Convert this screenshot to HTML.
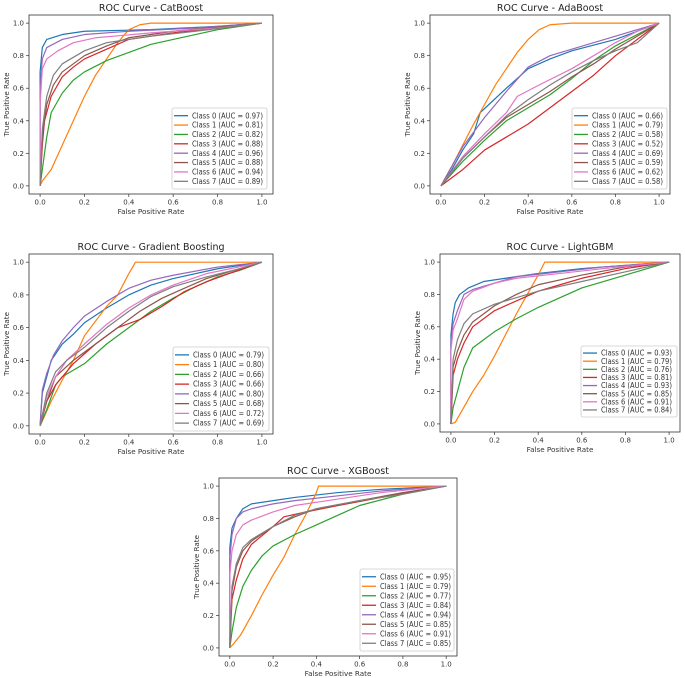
<!DOCTYPE html>
<html><head><meta charset="utf-8"><style>
html,body{margin:0;padding:0;background:#fff;}
svg{display:block;font-family:"DejaVu Sans","Liberation Sans",sans-serif;}
</style></head><body>
<svg id="fig" width="685" height="678" viewBox="0 0 685 678" xmlns="http://www.w3.org/2000/svg"></svg>
<script>
const classColors = ['#1f77b4','#ff7f0e','#2ca02c','#d62728','#9467bd','#8c564b','#e377c2','#7f7f7f'];
const tickValues = [0,0.2,0.4,0.6,0.8,1.0];
const tickLabels = ['0.0','0.2','0.4','0.6','0.8','1.0'];

const catboostAuc = [0.97,0.81,0.82,0.88,0.96,0.88,0.94,0.89];
const catboostCurves = [
 [[0,0],[0,0.7],[0.01,0.85],[0.03,0.9],[0.1,0.93],[0.2,0.95],[0.5,0.96],[0.8,0.98],[1,1]],
 [[0,0],[0.01,0.03],[0.05,0.1],[0.1,0.25],[0.15,0.4],[0.2,0.55],[0.25,0.68],[0.3,0.78],[0.35,0.88],[0.4,0.96],[0.45,0.99],[0.5,1],[1,1]],
 [[0,0],[0.01,0.1],[0.03,0.3],[0.05,0.45],[0.1,0.57],[0.15,0.65],[0.2,0.7],[0.3,0.77],[0.4,0.82],[0.5,0.87],[0.6,0.9],[0.8,0.96],[1,1]],
 [[0,0],[0.01,0.25],[0.02,0.4],[0.05,0.55],[0.1,0.67],[0.15,0.73],[0.2,0.78],[0.3,0.84],[0.4,0.9],[0.6,0.94],[0.8,0.97],[1,1]],
 [[0,0],[0,0.6],[0.01,0.78],[0.03,0.85],[0.1,0.9],[0.2,0.93],[0.4,0.95],[0.7,0.97],[1,1]],
 [[0,0],[0.01,0.3],[0.03,0.5],[0.06,0.62],[0.1,0.7],[0.2,0.8],[0.3,0.86],[0.4,0.91],[0.6,0.95],[1,1]],
 [[0,0],[0,0.5],[0.01,0.72],[0.03,0.78],[0.08,0.83],[0.15,0.88],[0.25,0.91],[0.5,0.94],[0.8,0.97],[1,1]],
 [[0,0],[0.01,0.35],[0.03,0.55],[0.06,0.68],[0.1,0.75],[0.2,0.83],[0.3,0.88],[0.5,0.92],[0.7,0.95],[1,1]]
];
const adaboostAuc = [0.66,0.79,0.58,0.52,0.69,0.59,0.62,0.58];
const adaboostCurves = [
 [[0,0],[0.05,0.1],[0.1,0.22],[0.15,0.32],[0.18,0.45],[0.22,0.5],[0.3,0.6],[0.4,0.72],[0.5,0.78],[0.6,0.83],[0.8,0.9],[1,1]],
 [[0,0],[0.05,0.12],[0.1,0.25],[0.15,0.38],[0.2,0.5],[0.25,0.62],[0.3,0.72],[0.35,0.82],[0.4,0.9],[0.45,0.96],[0.5,0.99],[0.6,1],[1,1]],
 [[0,0],[0.1,0.15],[0.2,0.28],[0.3,0.4],[0.4,0.48],[0.5,0.56],[0.6,0.66],[0.7,0.77],[0.8,0.86],[0.9,0.93],[1,1]],
 [[0,0],[0.05,0.05],[0.1,0.1],[0.2,0.22],[0.3,0.3],[0.4,0.38],[0.5,0.48],[0.6,0.58],[0.7,0.68],[0.8,0.8],[0.9,0.9],[1,1]],
 [[0,0],[0.05,0.12],[0.1,0.24],[0.15,0.33],[0.2,0.42],[0.3,0.58],[0.4,0.73],[0.5,0.8],[0.6,0.84],[0.8,0.92],[1,1]],
 [[0,0],[0.1,0.17],[0.2,0.3],[0.3,0.42],[0.4,0.5],[0.5,0.58],[0.6,0.67],[0.7,0.75],[0.8,0.84],[0.9,0.92],[1,1]],
 [[0,0],[0.1,0.18],[0.2,0.32],[0.3,0.45],[0.35,0.55],[0.45,0.62],[0.6,0.72],[0.7,0.8],[0.8,0.88],[0.9,0.95],[1,1]],
 [[0,0],[0.1,0.17],[0.2,0.3],[0.3,0.43],[0.4,0.53],[0.5,0.62],[0.6,0.7],[0.7,0.77],[0.8,0.83],[0.9,0.88],[1,1]]
];
const gradientAuc = [0.79,0.80,0.66,0.66,0.80,0.68,0.72,0.69];
const gradientCurves = [
 [[0,0],[0.01,0.2],[0.03,0.3],[0.05,0.4],[0.1,0.5],[0.15,0.56],[0.2,0.63],[0.3,0.72],[0.4,0.8],[0.5,0.86],[0.6,0.9],[0.8,0.96],[1,1]],
 [[0,0],[0.05,0.15],[0.1,0.28],[0.15,0.4],[0.2,0.55],[0.3,0.73],[0.35,0.8],[0.4,0.93],[0.43,1],[1,1]],
 [[0,0],[0.03,0.1],[0.07,0.25],[0.1,0.3],[0.2,0.38],[0.3,0.5],[0.4,0.6],[0.5,0.7],[0.6,0.78],[0.7,0.85],[0.8,0.91],[0.9,0.95],[1,1]],
 [[0,0],[0.03,0.15],[0.07,0.25],[0.15,0.38],[0.25,0.5],[0.35,0.6],[0.45,0.65],[0.55,0.73],[0.65,0.82],[0.75,0.88],[0.85,0.93],[1,1]],
 [[0,0],[0.01,0.22],[0.03,0.32],[0.06,0.43],[0.1,0.52],[0.15,0.6],[0.2,0.67],[0.3,0.76],[0.4,0.84],[0.5,0.89],[0.6,0.92],[0.8,0.97],[1,1]],
 [[0,0],[0.03,0.15],[0.07,0.3],[0.15,0.4],[0.25,0.5],[0.35,0.6],[0.45,0.7],[0.55,0.78],[0.65,0.84],[0.75,0.9],[0.9,0.96],[1,1]],
 [[0,0],[0.03,0.18],[0.07,0.3],[0.12,0.4],[0.2,0.5],[0.3,0.62],[0.4,0.72],[0.5,0.8],[0.6,0.86],[0.75,0.93],[1,1]],
 [[0,0],[0.03,0.2],[0.07,0.33],[0.12,0.4],[0.2,0.48],[0.3,0.6],[0.4,0.7],[0.5,0.79],[0.6,0.85],[0.75,0.91],[0.9,0.96],[1,1]]
];
const lightgbmAuc = [0.93,0.79,0.76,0.81,0.93,0.85,0.91,0.84];
const lightgbmCurves = [
 [[0,0],[0,0.55],[0.01,0.68],[0.02,0.75],[0.04,0.8],[0.08,0.84],[0.15,0.88],[0.25,0.9],[0.4,0.93],[0.6,0.96],[0.8,0.98],[1,1]],
 [[0,0],[0.02,0.01],[0.05,0.08],[0.1,0.2],[0.15,0.3],[0.2,0.42],[0.25,0.55],[0.3,0.68],[0.35,0.8],[0.4,0.92],[0.43,1],[1,1]],
 [[0,0],[0.01,0.1],[0.03,0.2],[0.06,0.35],[0.1,0.47],[0.15,0.52],[0.2,0.57],[0.3,0.65],[0.4,0.72],[0.5,0.78],[0.6,0.84],[0.8,0.92],[1,1]],
 [[0,0],[0.01,0.3],[0.03,0.4],[0.06,0.5],[0.1,0.6],[0.2,0.7],[0.3,0.76],[0.4,0.82],[0.5,0.86],[0.6,0.9],[0.8,0.96],[1,1]],
 [[0,0],[0,0.5],[0.01,0.62],[0.03,0.7],[0.06,0.8],[0.1,0.83],[0.2,0.87],[0.3,0.91],[0.5,0.94],[0.7,0.97],[1,1]],
 [[0,0],[0.01,0.35],[0.03,0.45],[0.06,0.55],[0.1,0.63],[0.2,0.73],[0.3,0.8],[0.4,0.86],[0.6,0.92],[0.8,0.97],[1,1]],
 [[0,0],[0,0.45],[0.01,0.58],[0.03,0.65],[0.06,0.77],[0.1,0.82],[0.2,0.87],[0.3,0.9],[0.5,0.93],[0.7,0.96],[1,1]],
 [[0,0],[0.01,0.4],[0.03,0.52],[0.06,0.62],[0.1,0.68],[0.2,0.74],[0.3,0.78],[0.4,0.82],[0.6,0.88],[0.8,0.94],[1,1]]
];
const xgboostAuc = [0.95,0.79,0.77,0.84,0.94,0.85,0.91,0.85];
const xgboostCurves = [
 [[0,0],[0,0.62],[0.01,0.74],[0.03,0.8],[0.06,0.86],[0.1,0.89],[0.2,0.91],[0.3,0.93],[0.5,0.96],[0.7,0.98],[1,1]],
 [[0,0],[0.02,0.03],[0.05,0.08],[0.1,0.2],[0.15,0.33],[0.2,0.45],[0.25,0.56],[0.3,0.7],[0.35,0.82],[0.4,0.96],[0.41,1],[1,1]],
 [[0,0],[0.01,0.1],[0.03,0.25],[0.06,0.38],[0.1,0.48],[0.15,0.57],[0.2,0.63],[0.3,0.7],[0.4,0.76],[0.5,0.82],[0.6,0.88],[0.8,0.95],[1,1]],
 [[0,0],[0.01,0.3],[0.03,0.42],[0.06,0.55],[0.1,0.64],[0.2,0.75],[0.25,0.81],[0.35,0.84],[0.5,0.88],[0.7,0.93],[1,1]],
 [[0,0],[0,0.55],[0.01,0.7],[0.03,0.8],[0.06,0.84],[0.1,0.86],[0.2,0.89],[0.3,0.91],[0.5,0.94],[0.7,0.97],[1,1]],
 [[0,0],[0.01,0.35],[0.03,0.5],[0.06,0.6],[0.1,0.66],[0.2,0.75],[0.3,0.81],[0.4,0.86],[0.6,0.91],[0.8,0.96],[1,1]],
 [[0,0],[0,0.45],[0.01,0.6],[0.03,0.7],[0.06,0.76],[0.1,0.79],[0.2,0.84],[0.3,0.88],[0.5,0.92],[0.7,0.96],[1,1]],
 [[0,0],[0.01,0.38],[0.03,0.52],[0.06,0.62],[0.1,0.67],[0.2,0.75],[0.3,0.82],[0.4,0.86],[0.6,0.91],[0.8,0.95],[1,1]]
];

const panels = [
 {key:'catboost', title:'ROC Curve - CatBoost', curves:catboostCurves, auc:catboostAuc, l:29,t:15,r:273,b:194, lg:[172,108,267,189], xlab:'False Positive Rate'},
 {key:'adaboost', title:'ROC Curve - AdaBoost', curves:adaboostCurves, auc:adaboostAuc, l:430,t:15,r:670,b:194, lg:[572,108,667,189], xlab:'False Positive Rate'},
 {key:'gradient-boosting', title:'ROC Curve - Gradient Boosting', curves:gradientCurves, auc:gradientAuc, l:29,t:254,r:273,b:434, lg:[173,347,269,431], xlab:'False Positive Rate'},
 {key:'lightgbm', title:'ROC Curve - LightGBM', curves:lightgbmCurves, auc:lightgbmAuc, l:440,t:254,r:680,b:432, lg:[581,346,677,417], xlab:'False Positive Rate'},
 {key:'xgboost', title:'ROC Curve - XGBoost', curves:xgboostCurves, auc:xgboostAuc, l:219,t:478,r:457,b:656, lg:[360,569,454,651], xlab:'False Positive Rate'}
];

const NS='http://www.w3.org/2000/svg';
const svg=document.getElementById('fig');
function mk(tag, attrs, parent){const e=document.createElementNS(NS,tag);for(const k in attrs)e.setAttribute(k,attrs[k]);(parent||svg).appendChild(e);return e;}

panels.forEach(p=>{
  const g=mk('g',{});
  
  
  const w=p.r-p.l, h=p.b-p.t;
  const xs=v=>p.l+(v+0.05)/1.1*w;
  const ys=v=>p.b-(v+0.05)/1.1*h;
  const ti=mk('text',{x:(p.l+p.r)/2,y:p.t-4,'text-anchor':'middle','font-size':9.5,fill:'#222'},g);
  ti.textContent=p.title;
  
  
  tickValues.forEach((v,i)=>{
    const x=xs(v), y=ys(v);
    mk('line',{x1:x,y1:p.b,x2:x,y2:p.b+3,stroke:'#333','stroke-width':0.7},g);
    const tx=mk('text',{x:x,y:p.b+10.5,'text-anchor':'middle','font-size':7,fill:'#333'},g);
    tx.textContent=tickLabels[i];
    
    
    mk('line',{x1:p.l-3,y1:y,x2:p.l,y2:y,stroke:'#333','stroke-width':0.7},g);
    const ty=mk('text',{x:p.l-5,y:y+2.5,'text-anchor':'end','font-size':7,fill:'#333'},g);
    ty.textContent=tickLabels[i];
    
    
  });
  const xl=mk('text',{x:(p.l+p.r)/2,y:p.b+20,'text-anchor':'middle','font-size':7.2,fill:'#333'},g);
  xl.textContent=p.xlab;
  
  
  const yl=mk('text',{x:0,y:0,'text-anchor':'middle','font-size':7.2,fill:'#333',transform:`translate(${p.l-20},${(p.t+p.b)/2}) rotate(-90)`},g);
  yl.textContent='True Positive Rate';
  
  
  p.curves.forEach((c,ci)=>{
    const d=c.map((pt,i)=>(i?'L':'M')+xs(pt[0]).toFixed(2)+' '+ys(pt[1]).toFixed(2)).join(' ');
    const path=mk('path',{d:d,fill:'none',stroke:classColors[ci],'stroke-width':1.2,'stroke-linejoin':'round'},g);
    
    
  });
  mk('rect',{x:p.l,y:p.t,width:w,height:h,fill:'none',stroke:'#333','stroke-width':0.8},g);
  const [lx,ly,lr,lb]=p.lg;
  const lg=mk('g',{},g);
  
  
  mk('rect',{x:lx,y:ly,width:lr-lx,height:lb-ly,fill:'#fff','fill-opacity':0.85,stroke:'#ccc','stroke-width':0.8,rx:2},lg);
  const step=(lb-ly-6)/8;
  p.auc.forEach((a,ci)=>{
    const yy=ly+3+step*(ci+0.5);
    mk('line',{x1:lx+2,y1:yy,x2:lx+16,y2:yy,stroke:classColors[ci],'stroke-width':1.3},lg);
    const t=mk('text',{x:lx+20,y:yy+2.6,'font-size':7.6,fill:'#333',textLength:71,lengthAdjust:'spacingAndGlyphs'},lg);
    t.textContent='Class '+ci+' (AUC = '+a.toFixed(2)+')';
    
    
  });
});
</script>
</body></html>
